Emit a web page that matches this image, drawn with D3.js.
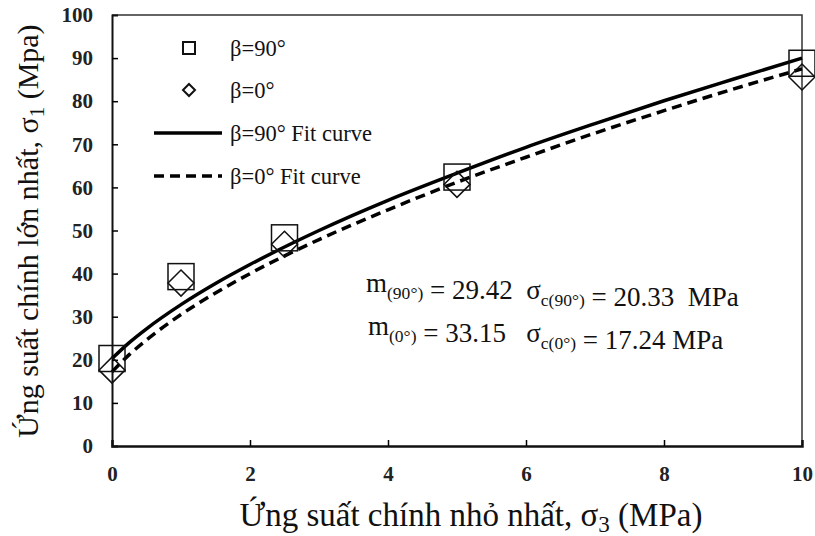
<!DOCTYPE html>
<html>
<head>
<meta charset="utf-8">
<script src="https://cdn.jsdelivr.net/npm/d3@7"></script>
<style>
  body { margin: 0; background: #fff; }
  svg, svg text { font-family: "Times New Roman", Tinos, "Liberation Serif", serif; }
  svg text { white-space: pre; }
  .tick text { font-family: "Times New Roman", Tinos, "Liberation Serif", serif; font-weight: bold; font-size: 21px; fill: #222; }
</style>
</head>
<body>
<div id="chart"></div>
<script>
// measured points, sigma3 (MPa) vs sigma1 (MPa)
var s3Points = [0, 1, 2.5, 5, 10]
var s1Beta90 = [20.3, 39.3, 48.3, 62.4, 88.8]
var s1Beta0 = [17.6, 37.8, 46.8, 60.7, 85.6]

// fit curves
var s3Curve = [0, 0.25, 0.5, 1, 1.5, 2, 3, 4, 5, 6, 7, 8, 9, 10]
var s1Fit90 = [20.3, 24.0, 27.2, 32.8, 37.7, 42.1, 50.0, 57.0, 63.3, 69.3, 74.8, 80.1, 85.1, 90.0]
var s1Fit0 = [17.2, 21.2, 24.6, 30.5, 35.5, 40.0, 47.9, 54.8, 61.2, 67.0, 72.6, 77.8, 82.8, 87.5]

var xTicks = [0, 2, 4, 6, 8, 10]
var yTicks = [0, 10, 20, 30, 40, 50, 60, 70, 80, 90, 100]

var margin = {left: 112, top: 15, right: 13, bottom: 90}
var W = 815, H = 536
var width = W - margin.left - margin.right
var height = H - margin.top - margin.bottom

var svg = d3.select('#chart').append('svg').attr('width', W).attr('height', H)
var g = svg.append('g').attr('transform', 'translate(' + margin.left + ',' + margin.top + ')')

var x = d3.scaleLinear().domain([0, 10]).range([0, width])
var y = d3.scaleLinear().domain([0, 100]).range([height, 0])

// frame (top/right)
g.append('path')
  .attr('d', 'M0,0H' + width + 'V' + height)
  .attr('fill', 'none').attr('stroke', '#333').attr('stroke-width', 1.5)

var yAxis = g.append('g')
  .call(d3.axisLeft(y).tickValues(yTicks).tickSize(-6).tickPadding(19).tickFormat(d3.format('d')))
yAxis.select('.domain').attr('stroke', '#111').attr('stroke-width', 2)
yAxis.selectAll('.tick line').attr('stroke-width', 1.5)
  .filter(function(d){ return d == 0 || d == 100 }).remove()

var xAxis = g.append('g').attr('transform', 'translate(0,' + height + ')')
  .call(d3.axisBottom(x).tickValues(xTicks).tickSize(-6).tickPadding(20).tickFormat(d3.format('d')))
xAxis.select('.domain').attr('stroke', '#111').attr('stroke-width', 2.5)
xAxis.selectAll('.tick line').attr('stroke-width', 1.5)
  .filter(function(d){ return d == 0 || d == 10 }).remove()

// fit curves
var curve90 = s3Curve.map(function(d, i){ return [d, s1Fit90[i]] })
var curve0 = s3Curve.map(function(d, i){ return [d, s1Fit0[i]] })
var line = d3.line().x(function(d){ return x(d[0]) }).y(function(d){ return y(d[1]) }).curve(d3.curveMonotoneX)

g.append('path').attr('d', line(curve90))
  .attr('fill', 'none').attr('stroke', '#000').attr('stroke-width', 3.5)
g.append('path').attr('d', line(curve0))
  .attr('fill', 'none').attr('stroke', '#000').attr('stroke-width', 3.5).attr('stroke-dasharray', '10,6')

// points
var sq = 26
g.selectAll('rect.p90').data(s3Points).enter().append('rect')
  .attr('x', function(d){ return x(d) - sq / 2 })
  .attr('y', function(d, i){ return y(s1Beta90[i]) - sq / 2 })
  .attr('width', sq).attr('height', sq)
  .attr('fill', 'none').attr('stroke', '#111').attr('stroke-width', 1.5)

var dm = 13
g.selectAll('path.p0').data(s3Points).enter().append('path')
  .attr('transform', function(d, i){ return 'translate(' + x(d) + ',' + y(s1Beta0[i]) + ')' })
  .attr('d', 'M0,' + (-dm) + 'L' + dm + ',0L0,' + dm + 'L' + (-dm) + ',0Z')
  .attr('fill', 'none').attr('stroke', '#111').attr('stroke-width', 1.5)

// legend
var lg = svg.append('g').attr('font-size', 22.5).attr('fill', '#111')
lg.append('rect').attr('x', 183).attr('y', 42).attr('width', 12).attr('height', 12)
  .attr('fill', 'none').attr('stroke', '#111').attr('stroke-width', 2)
lg.append('text').attr('x', 230).attr('y', 56).text('β=90°')
lg.append('path').attr('transform', 'translate(189,90)').attr('d', 'M0,-6L6,0L0,6L-6,0Z')
  .attr('fill', 'none').attr('stroke', '#111').attr('stroke-width', 2)
lg.append('text').attr('x', 230).attr('y', 98).text('β=0°')
lg.append('line').attr('x1', 154).attr('x2', 222).attr('y1', 133).attr('y2', 133)
  .attr('stroke', '#000').attr('stroke-width', 3.5)
lg.append('text').attr('x', 230).attr('y', 141).text('β=90° Fit curve')
lg.append('line').attr('x1', 154).attr('x2', 222).attr('y1', 176).attr('y2', 176)
  .attr('stroke', '#000').attr('stroke-width', 3.5).attr('stroke-dasharray', '10,6')
lg.append('text').attr('x', 230).attr('y', 184).text('β=0° Fit curve')

// parameters
function sub(t, main, s){
  t.append('tspan').text(main)
  t.append('tspan').attr('font-size', '0.65em').attr('dy', 7).text(s)
  t.append('tspan').attr('dy', -7).text('')
}
var a1 = svg.append('text').attr('x', 366).attr('y', 292).attr('font-size', 27).attr('fill', '#111')
sub(a1, 'm', '(90°)')
a1.append('tspan').text(' = 29.42  ')
sub(a1, 'σ', 'c(90°)')
a1.append('tspan').text(' = 20.33  MPa')

var a2 = svg.append('text').attr('x', 368).attr('y', 335).attr('font-size', 27).attr('fill', '#111')
sub(a2, 'm', '(0°)')
a2.append('tspan').text(' = 33.15   ')
sub(a2, 'σ', 'c(0°)')
a2.append('tspan').text(' = 17.24 MPa')

// axis titles
var xl = svg.append('text').attr('x', 471).attr('y', 526).attr('text-anchor', 'middle')
  .attr('font-size', 33).attr('fill', '#111')
xl.append('tspan').text('Ứng suất chính nhỏ nhất, σ')
xl.append('tspan').attr('font-size', '0.7em').attr('dy', 6).text('3')
xl.append('tspan').attr('dy', -6).text(' (MPa)')

var yl = svg.append('text').attr('transform', 'translate(38,231) rotate(-90)').attr('text-anchor', 'middle')
  .attr('font-size', 30).attr('fill', '#111')
yl.append('tspan').text('Ứng suất chính lớn nhất, σ')
yl.append('tspan').attr('font-size', '0.7em').attr('dy', 6).text('1')
yl.append('tspan').attr('dy', -6).text(' (Mpa)')
</script>
</body>
</html>
